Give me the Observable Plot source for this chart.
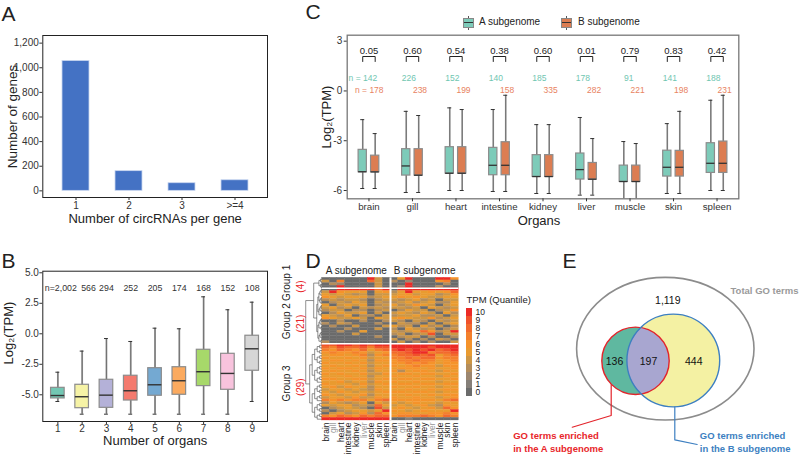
<!DOCTYPE html>
<html><head><meta charset="utf-8">
<script src="https://cdn.jsdelivr.net/npm/d3@7"></script>
<script src="https://cdn.jsdelivr.net/npm/@observablehq/plot@0.6"></script>
<style>
body{margin:0;background:#fff;}
#fig{position:relative;width:800px;height:454px;overflow:hidden;font-family:"Liberation Sans",Arial,Helvetica,sans-serif;color:#222;}
.lkey{position:absolute;width:9px;height:8px;border:1px solid #888;box-sizing:content-box;}
.lkey i{position:absolute;left:0;right:0;top:3.5px;height:1px;background:#333;}
.lkey:before,.lkey:after{content:"";position:absolute;left:4px;width:1px;height:2px;background:#555;}
.lkey:before{top:-3px}.lkey:after{bottom:-3px}
.ltxt{position:absolute;font-size:10px;line-height:10px;white-space:nowrap;}
</style></head>
<body><div id="fig"></div>
<script>
// ---------------- DATA ----------------
// Panel A
const circCats = ["1", "2", "3", ">=4"];
const circGenes = [1055, 160, 62, 86];
// Panel B
const organCounts = [1, 2, 3, 4, 5, 6, 7, 8, 9];
const organN = ["n=2,002", "566", "294", "252", "205", "174", "168", "152", "108"];
const organLow  = [-5.55, -6.59, -6.59, -6.59, -6.59, -6.59, -6.59, -6.59, -5.55];
const organQ1   = [-5.30, -6.10, -6.07, -5.47, -5.08, -5.00, -4.29, -4.59, -3.03];
const organMed  = [-5.06, -5.16, -5.03, -4.67, -4.18, -3.85, -3.11, -3.25, -1.23];
const organQ3   = [-4.43, -4.18, -3.77, -3.44, -2.82, -2.74, -1.31, -1.64, -0.16];
const organHigh = [-3.15, -1.42, -0.39, -0.63, 0.46, 0.41, 3.03, 1.97, 2.59];
// Panel C
const organs = ["brain", "gill", "heart", "intestine", "kidney", "liver", "muscle", "skin", "spleen"];
const pValues = ["0.05", "0.60", "0.54", "0.38", "0.60", "0.01", "0.79", "0.83", "0.42"];
const nA = [142, 226, 152, 140, 185, 178, 91, 141, 188];
const nB = [178, 238, 199, 158, 335, 282, 221, 198, 231];
const lowA  = [-5.88, -6.12, -6.00, -6.06, -6.18, -6.28, -6.50, -6.18, -6.00];
const q1A   = [-4.90, -5.10, -4.98, -5.08, -5.18, -5.34, -5.48, -5.16, -4.94];
const medA  = [-4.87, -4.52, -4.96, -4.48, -5.16, -4.74, -5.46, -4.60, -4.36];
const q3A   = [-3.55, -3.51, -3.39, -3.43, -3.87, -3.77, -4.50, -3.60, -3.15];
const highA = [-1.73, -1.23, -1.02, -1.12, -2.03, -1.60, -3.05, -1.97, -0.56];
const lowB  = [-5.88, -6.12, -6.00, -6.06, -6.18, -6.28, -6.50, -6.18, -6.00];
const q1B   = [-4.90, -5.10, -4.98, -5.08, -5.18, -5.34, -5.48, -5.16, -4.94];
const medB  = [-4.88, -5.08, -4.96, -4.48, -5.16, -5.32, -5.46, -4.60, -4.36];
const q3B   = [-3.90, -3.51, -3.39, -3.09, -3.87, -4.34, -4.50, -3.61, -3.05];
const highB = [-2.57, -1.48, -1.12, -0.26, -2.03, -2.87, -3.17, -1.23, -0.26];
// Panel D (TPM quantile, 0-10; 'a' = 10; A subgenome 9 organs | B subgenome 9 organs)
const groupNames = ["Group 1", "Group 2", "Group 3"];
const groupSizes = [4, 21, 29];
const heatRows = [
"000000a40 05a000aa6","407000840 302000670","032000040 00a000030","00a000040 02a000300",
"00aaaaa8a 0aaaaaaaa","4a6555056 35a556568","545434044 456455346","654555345 565654455",
"343443034 434534044","034354043 345345335","504545034 534654045","453404343 443405434",
"344033034 035440346","035445040 454354053","543503304 344533404","654454054 565446345",
"003003003 430430434","304300030 043304045","030040004 534053403","000300040 305434034",
"003005000 43458634a","000040000 340349044","000000030 034403003","000000000 403030430",
"300000000 040303004",
"99aa9a9aa aaaaaaaaa","879889799 aaaaa9aaa","768768578 9a9a9a89a","676676456 889aa7889",
"566567367 788989578","655656455 778788677","566565366 677877567","655656455 667676566",
"565565356 656766466","656656465 566656556","565565355 635665465","656556446 566566556",
"555655355 655655465","665566456 566566556","556455365 655655455","655546456 566566566",
"564655355 655655455","455454365 556556566","546545456 665665455","654556355 556556566",
"455464465 655655456","767677578 666666578","354345054 545655455","545534385 454564365",
"034543094 565456486","30345545a 65456555a","045346386 566556676","768768788 677787687",
"aaaaaaaaa 001000000"];
const quantLevels = [0,1,2,3,4,5,6,7,8,9,10];
// Panel E
const vennCounts = [1119, 136, 197, 444];   // total only, A only, A&B, B only

// ---------------- STYLE / LAYOUT ----------------
const FONT = '"Liberation Sans", Arial, Helvetica, sans-serif';
const W = 800, H = 454;
const fig = document.getElementById("fig");
const baseStyle = {background: "transparent", fontFamily: FONT, fontSize: "10px", color: "#222", overflow: "visible"};
function fm(l, t, r, b) { return {marginLeft: l, marginTop: t, marginRight: W - r, marginBottom: H - b}; }
function add(p) { p.style.position = "absolute"; p.style.left = "0px"; p.style.top = "0px"; fig.appendChild(p); return p; }
const lbl = (s) => [s];
const boxColorsB = ["#72c7b3", "#f6f3a6", "#b4b1d8", "#f47a6e", "#74a9d2", "#fbaa5f", "#a7d86a", "#f8c3dd", "#d6d6d6"];
const heatColors = ["#6b6b6b", "#857f79", "#9c866f", "#b48d5b", "#cd9645", "#e99b30", "#f5932b", "#f4802c", "#f26a2d", "#f0522b", "#ec2a26"];

// ---------------- PANEL A ----------------
const dataA = circCats.map((k, i) => ({k, n: circGenes[i]}));
add(Plot.plot({
  width: W, height: H, ...fm(42.3, 35, 267, 197), style: baseStyle,
  x: {type: "band", domain: circCats, paddingInner: 0.5, paddingOuter: 0.35},
  y: {domain: [-54, 1262]},
  marks: [
    Plot.barY(dataA, {x: "k", y: "n", fill: "#4472c4", stroke: "#c9d6ef", strokeWidth: 0.8}),
    Plot.frame({stroke: "#222", strokeWidth: 1}),
    Plot.axisY({ticks: [0, 200, 400, 600, 800, 1000, 1200], tickFormat: d3.format(","), tickSize: 3, tickPadding: 1, fontSize: 10, color: "#333", label: null}),
    Plot.axisX({tickSize: 3, tickPadding: 1, fontSize: 10, color: "#333", label: null}),
    Plot.text(lbl("Number of genes"), {text: d => d, frameAnchor: "left", dx: -35.6, rotate: -90, textAnchor: "middle", lineAnchor: "top", fontSize: 13.5}),
    Plot.text(lbl("Number of circRNAs per gene"), {text: d => d, frameAnchor: "bottom", dy: 16, textAnchor: "middle", lineAnchor: "top", fontSize: 13}),
    Plot.text(lbl("A"), {text: d => d, frameAnchor: "top-left", dx: -41.3, dy: -15, lineAnchor: "bottom", textAnchor: "start", fontSize: 21})
  ]
}));

// ---------------- PANEL B ----------------
const dataB = organCounts.map((k, i) => ({k, n: organN[i], low: organLow[i], q1: organQ1[i], med: organMed[i], q3: organQ3[i], high: organHigh[i]}));
const nNudgeB = [0.12, 0.26, 0, 0, 0, 0, 0, 0, 0];
const bw = 0.28, bc = 0.08;
add(Plot.plot({
  width: W, height: H, ...fm(42.3, 270.7, 267, 421), style: baseStyle,
  x: {domain: [0.38, 9.63]},
  y: {domain: [-7.19, 5.13]},
  color: {type: "ordinal", domain: organCounts, range: boxColorsB},
  marks: [
    Plot.ruleX(dataB, {x: "k", y1: "low", y2: "high", stroke: "#9a9a9a", strokeWidth: 1.8}),
    Plot.ruleX(dataB, {x: "k", y1: "low", y2: "high", stroke: "#555", strokeWidth: 0.6}),
    Plot.ruleY(dataB, {y: "high", x1: d => d.k - bc, x2: d => d.k + bc, stroke: "#333", strokeWidth: 1}),
    Plot.ruleY(dataB, {y: "low", x1: d => d.k - bc, x2: d => d.k + bc, stroke: "#333", strokeWidth: 1}),
    Plot.rect(dataB, {x1: d => d.k - bw, x2: d => d.k + bw, y1: "q1", y2: "q3", fill: "k", stroke: "#8c8c8c", strokeWidth: 1.2}),
    Plot.ruleY(dataB, {y: "med", x1: d => d.k - bw, x2: d => d.k + bw, stroke: "#333", strokeWidth: 1.4}),
    Plot.text(dataB, {x: (d, i) => d.k + nNudgeB[i], text: "n", frameAnchor: "top", dy: 17, textAnchor: "middle", lineAnchor: "middle", fontSize: 8.8, fill: "#333"}),
    Plot.frame({stroke: "#222", strokeWidth: 1}),
    Plot.axisY({ticks: [-5, -2.5, 0, 2.5, 5], tickFormat: d => d.toFixed(1), tickSize: 3, tickPadding: 1, fontSize: 10, color: "#333", label: null}),
    Plot.axisX({ticks: organCounts, tickFormat: d => String(d), tickSize: 3, tickPadding: 0, fontSize: 10, color: "#333", label: null}),
    Plot.text(lbl("Log₂(TPM)"), {text: d => d, frameAnchor: "left", dx: -39, dy: -13.3, rotate: -90, textAnchor: "middle", lineAnchor: "top", fontSize: 13}),
    Plot.text(lbl("Number of organs"), {text: d => d, frameAnchor: "bottom", dy: 14, textAnchor: "middle", lineAnchor: "top", fontSize: 13}),
    Plot.text(lbl("B"), {text: d => d, frameAnchor: "top-left", dx: -41.3, dy: -3.7, lineAnchor: "bottom", textAnchor: "start", fontSize: 21})
  ]
}));

// ---------------- PANEL C ----------------
const off = 0.143, hw = 0.095, cw = 0.046;
const dataC = organs.flatMap((o, i) => [
  {o, i, g: "A", pos: i - off, n: nA[i], low: lowA[i], q1: q1A[i], med: medA[i], q3: q3A[i], high: highA[i]},
  {o, i, g: "B", pos: i + off, n: nB[i], low: lowB[i], q1: q1B[i], med: medB[i], q3: q3B[i], high: highB[i]}
]);
const brLo = 1.775, brHi = 2.076;
const bracketPts = organs.flatMap((o, i) => [[i - off, brLo], [i - off, brHi], [i + off, brHi], [i + off, brLo]].map(([x, y]) => ({i, x, y})));
add(Plot.plot({
  width: W, height: H, ...fm(346.7, 34.7, 738.3, 198.3), style: baseStyle,
  x: {domain: [-0.5, 8.5]},
  y: {domain: [-6.5, 3.36]},
  color: {type: "ordinal", domain: ["A", "B"], range: ["#7dcbb9", "#dc7d52"]},
  marks: [
    Plot.ruleX(dataC, {x: "pos", y1: "low", y2: "high", stroke: "#9a9a9a", strokeWidth: 1.6}),
    Plot.ruleX(dataC, {x: "pos", y1: "low", y2: "high", stroke: "#555", strokeWidth: 0.6}),
    Plot.ruleY(dataC, {y: "high", x1: d => d.pos - cw, x2: d => d.pos + cw, stroke: "#333", strokeWidth: 1}),
    Plot.ruleY(dataC.filter(d => d.low > -6.5), {y: "low", x1: d => d.pos - cw, x2: d => d.pos + cw, stroke: "#333", strokeWidth: 1}),
    Plot.rect(dataC, {x1: d => d.pos - hw, x2: d => d.pos + hw, y1: "q1", y2: "q3", fill: "g", stroke: "#8c8c8c", strokeWidth: 1.2}),
    Plot.ruleY(dataC, {y: "med", x1: d => d.pos - hw, x2: d => d.pos + hw, stroke: "#333", strokeWidth: 1.3}),
    Plot.line(bracketPts, {x: "x", y: "y", z: "i", stroke: "#222", strokeWidth: 1}),
    Plot.text(organs, {x: (d, i) => i, text: (d, i) => pValues[i], frameAnchor: "top", dy: 15.3, textAnchor: "middle", lineAnchor: "middle", fontSize: 9.5, fill: "#222"}),
    Plot.text(dataC.filter(d => d.g === "A"), {x: d => d.pos + (d.i === 0 ? 0.333 : 0.221), text: d => d.i === 0 ? `n = ${d.n}` : String(d.n), frameAnchor: "top", dy: 43, textAnchor: "end", lineAnchor: "middle", fontSize: 8.5, fill: "#6fc6b1"}),
    Plot.text(dataC.filter(d => d.g === "B"), {x: d => d.pos + 0.193, text: d => d.i === 0 ? `n = ${d.n}` : String(d.n), frameAnchor: "top", dy: 54.6, textAnchor: "end", lineAnchor: "middle", fontSize: 8.5, fill: "#e8835f"}),
    Plot.frame({stroke: "#777", strokeWidth: 1.3}),
    Plot.axisY({ticks: [-6, -3, 0, 3], tickFormat: d => String(d), tickSize: 3, tickPadding: 2, fontSize: 10, color: "#333", label: null}),
    Plot.axisX({ticks: d3.range(organs.length), tickFormat: i => organs[i], tickSize: 3, tickPadding: 1, fontSize: 9.7, color: "#333", label: null}),
    Plot.text(lbl("Log₂(TPM)"), {text: d => d, frameAnchor: "left", dx: -25.5, rotate: -90, textAnchor: "middle", lineAnchor: "top", fontSize: 13}),
    Plot.text(lbl("Organs"), {text: d => d, frameAnchor: "bottom", dx: -4, dy: 16.7, textAnchor: "middle", lineAnchor: "top", fontSize: 13}),
    Plot.text(lbl("C"), {text: d => d, frameAnchor: "top-left", dx: -41.7, dy: -16.2, lineAnchor: "bottom", textAnchor: "start", fontSize: 21})
  ]
}));
// legend for C (HTML)
fig.insertAdjacentHTML("beforeend",
  `<div class="lkey" style="left:462.5px;top:17.5px;background:#7dcbb9"><i></i></div><div class="ltxt" style="left:479px;top:17px">A subgenome</div>
   <div class="lkey" style="left:561px;top:17.5px;background:#dc7d52"><i></i></div><div class="ltxt" style="left:578px;top:17px">B subgenome</div>`);

// ---------------- PANEL D ----------------
const cells = heatRows.flatMap((s, r) => [...s.replace(/ /g, "")].map((ch, c) => ({r, c, v: parseInt(ch, 16)})));
const groupStarts = groupSizes.map((n, g) => d3.sum(groupSizes.slice(0, g)));
// dendrogram (layout depth in column units)
const groupRootDepth = [0.43, 0.72, 1.65], g12Depth = 1.12, rootDepth = 2.17;
const links = [];
function build(lo, hi) {
  if (lo === hi) return {x: -0.03, y: lo + 0.5, h: 0};
  const mid = Math.floor((lo + hi) / 2);
  const a = build(lo, mid), b = build(mid + 1, hi);
  return {children: [a, b], y: (a.y + b.y) / 2, h: Math.max(a.h, b.h) + 1};
}
function place(node, scale) {
  if (!node.children) return;
  node.x = -node.h * scale;
  for (const ch of node.children) { place(ch, scale); links.push({x1: node.x, y1: node.y, x2: ch.x, y2: ch.y}); }
}
const groupTrees = groupSizes.map((n, g) => {
  const t = build(groupStarts[g], groupStarts[g] + n - 1);
  place(t, groupRootDepth[g] / t.h);
  return t;
});
const g12 = {x: -g12Depth, y: (groupTrees[0].y + groupTrees[1].y) / 2};
const root = {x: -rootDepth, y: (g12.y + groupTrees[2].y) / 2};
links.push({x1: g12.x, y1: g12.y, x2: groupTrees[0].x, y2: groupTrees[0].y});
links.push({x1: g12.x, y1: g12.y, x2: groupTrees[1].x, y2: groupTrees[1].y});
links.push({x1: root.x, y1: root.y, x2: g12.x, y2: g12.y});
links.push({x1: root.x, y1: root.y, x2: groupTrees[2].x, y2: groupTrees[2].y});
const colLabels = [...organs, ...organs].map((o, c) => ({o, c}));
const grayCols = ["gill", "liver"];
// label placement (rows) — labels nudged like the reference to avoid collisions
const groupLabelRow = [1.9, 16.4, 40.0];
const groupCountRow = [3.3, 17.3, 41.4];
const groupInfo = groupNames.map((name, g) => ({name, n: groupSizes[g], lr: groupLabelRow[g], cr: groupCountRow[g]}));
add(Plot.plot({
  width: W, height: H, ...fm(321.7, 277.3, 458.3, 420), style: baseStyle,
  x: {domain: [0, 18], axis: null},
  y: {domain: [54, 0], axis: null},
  color: {type: "ordinal", domain: quantLevels, range: heatColors},
  marks: [
    Plot.rect(cells, {x1: "c", x2: d => d.c + 1, y1: "r", y2: d => d.r + 1, fill: "v", stroke: "v", strokeWidth: 0.3}),
    Plot.ruleX([9], {stroke: "white", strokeWidth: 2}),
    Plot.ruleY([groupStarts[1], groupStarts[2]], {stroke: "white", strokeWidth: 1.5}),
    Plot.link(links, {x1: "x1", y1: "y1", x2: "x2", y2: "y2", curve: "step-before", stroke: "#444", strokeWidth: 0.6}),
    Plot.text(colLabels.filter(d => !grayCols.includes(d.o)), {x: d => d.c + 0.5, text: "o", frameAnchor: "bottom", rotate: -90, textAnchor: "end", lineAnchor: "middle", dy: 2, fontSize: 8.5, fill: "#222"}),
    Plot.text(colLabels.filter(d => grayCols.includes(d.o)), {x: d => d.c + 0.5, text: "o", frameAnchor: "bottom", rotate: -90, textAnchor: "end", lineAnchor: "middle", dy: 2, fontSize: 8.5, fill: "#999"}),
    Plot.text(["A subgenome", "B subgenome"], {x: (d, i) => i * 9 + 4.5, text: d => d, frameAnchor: "top", dy: -7.3, textAnchor: "middle", lineAnchor: "middle", fontSize: 10}),
    Plot.text(groupInfo, {x: () => -4.6, y: "lr", text: "name", rotate: -90, textAnchor: "middle", lineAnchor: "middle", fontSize: 10}),
    Plot.text(groupInfo, {x: () => -2.85, y: "cr", text: d => `(${d.n})`, rotate: -90, textAnchor: "middle", lineAnchor: "middle", fontSize: 10, fill: "#e8262a"}),
    Plot.text(lbl("D"), {text: d => d, frameAnchor: "top-left", dx: -16.7, dy: -10.3, lineAnchor: "bottom", textAnchor: "start", fontSize: 21})
  ]
}));
// D legend
add(Plot.plot({
  width: W, height: H, ...fm(466, 307.3, 472.3, 396), style: baseStyle,
  x: {type: "band", domain: ["q"], padding: 0, axis: null},
  y: {type: "band", domain: [...quantLevels].reverse(), padding: 0},
  color: {type: "ordinal", domain: quantLevels, range: heatColors},
  marks: [
    Plot.cell(quantLevels, {x: () => "q", y: d => d, fill: d => d}),
    Plot.axisY({anchor: "right", tickSize: 0, tickPadding: 2.7, fontSize: 8.5, color: "#222", label: null}),
    Plot.text(lbl("TPM (Quantile)"), {text: d => d, frameAnchor: "top-left", dy: -8.3, textAnchor: "start", lineAnchor: "middle", fontSize: 9.5})
  ]
}));

// ---------------- PANEL E ----------------
const vennOuter = {cx: 0, cy: 0, rx: 88.7, ry: 71.3};
const vennA = {cx: -29.8, cy: 12.1, r: 33.7};
const vennB = {cx: 8.0, cy: 11.8, r: 46.4};
const countPos = [[2, -48.7], [-51.3, 12.3], [-17.3, 12.3], [28, 12.3]];
const redLeader = [[-54.6, 35.3], [-54.6, 66.3], [-93.6, 78]].map(([x, y]) => ({x, y}));
const blueLeader = [[9, 58], [9, 90.6], [31.4, 95.3]].map(([x, y]) => ({x, y}));
function vennShapes(index, scales) {
  const {x, y} = scales;
  const g = d3.create("svg:g");
  const uid = "clipA" + Math.random().toString(36).slice(2);
  g.append("clipPath").attr("id", uid).append("circle")
    .attr("cx", x(vennA.cx)).attr("cy", y(vennA.cy)).attr("r", x(vennA.cx + vennA.r) - x(vennA.cx));
  g.append("ellipse").attr("cx", x(vennOuter.cx)).attr("cy", y(vennOuter.cy))
    .attr("rx", x(vennOuter.cx + vennOuter.rx) - x(vennOuter.cx)).attr("ry", y(vennOuter.cy + vennOuter.ry) - y(vennOuter.cy))
    .attr("fill", "none").attr("stroke", "#8c8c8c").attr("stroke-width", 1.6);
  const circ = (c) => g.append("circle").attr("cx", x(c.cx)).attr("cy", y(c.cy)).attr("r", x(c.cx + c.r) - x(c.cx));
  circ(vennB).attr("fill", "#f4f1a3");
  circ(vennA).attr("fill", "#5fb8a0");
  circ(vennB).attr("fill", "#a8a6d0").attr("clip-path", `url(#${uid})`);
  circ(vennA).attr("fill", "none").attr("stroke", "#e3242b").attr("stroke-width", 1.4);
  circ(vennB).attr("fill", "none").attr("stroke", "#3d7fc1").attr("stroke-width", 1.4);
  return g.node();
}
add(Plot.plot({
  width: W, height: H, style: baseStyle,
  x: {domain: [-100, 100], range: [565.3, 765.3], axis: null},
  y: {domain: [-100, 100], range: [248.7, 448.7], axis: null},
  marks: [
    vennShapes,
    Plot.text(vennCounts, {x: (d, i) => countPos[i][0], y: (d, i) => countPos[i][1], text: d => d3.format(",")(d), fontSize: 10.5, fill: "#111"}),
    Plot.text(lbl("Total GO terms"), {x: () => 64.7, y: () => -58, text: d => d, textAnchor: "start", fontSize: 9.5, fontWeight: "bold", fill: "#9a9a9a"}),
    Plot.line(redLeader, {x: "x", y: "y", stroke: "#e3242b", strokeWidth: 1.2}),
    Plot.line(blueLeader, {x: "x", y: "y", stroke: "#3d7fc1", strokeWidth: 1.2}),
    Plot.text(lbl("GO terms enriched\nin the A subgenome"), {x: () => -152.6, y: () => 81.2, text: d => d, textAnchor: "start", lineAnchor: "top", lineHeight: 1.3, fontSize: 9.5, fontWeight: "bold", fill: "#e8262a"}),
    Plot.text(lbl("GO terms enriched\nin the B subgenome"), {x: () => 34, y: () => 81.2, text: d => d, textAnchor: "start", lineAnchor: "top", lineHeight: 1.3, fontSize: 9.5, fontWeight: "bold", fill: "#3d7fc1"}),
    Plot.text(lbl("E"), {x: () => -103.3, y: () => -81.2, text: d => d, textAnchor: "start", lineAnchor: "bottom", fontSize: 21})
  ]
}));
</script></body></html>
